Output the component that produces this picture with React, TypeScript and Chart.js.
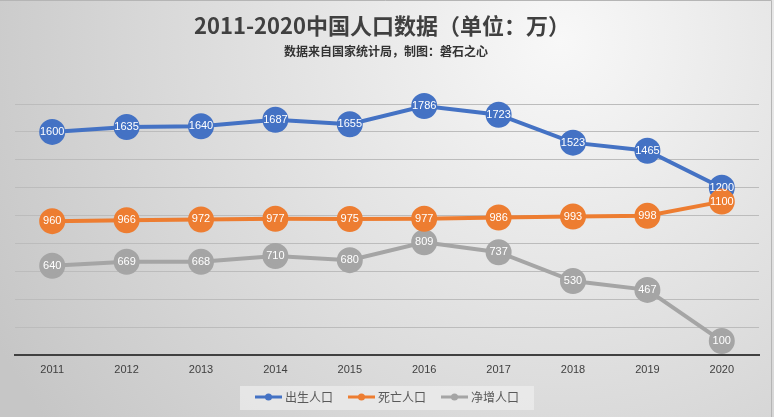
import React, { useEffect, useRef } from "react";
import { Chart, registerables } from "chart.js";

Chart.register(...registerables);

const years = ["2011", "2012", "2013", "2014", "2015", "2016", "2017", "2018", "2019", "2020"];
const births = [1600, 1635, 1640, 1687, 1655, 1786, 1723, 1523, 1465, 1200];
const deaths = [960, 966, 972, 977, 975, 977, 986, 993, 998, 1100];
const netGrowth = [640, 669, 668, 710, 680, 809, 737, 530, 467, 100];
const seriesNames = ["出生人口", "死亡人口", "净增人口"];
const seriesColors = ["#4472C4", "#ED7D31", "#A5A5A5"];
const titleText = "2011-2020中国人口数据（单位：万）";
const subtitleText = "数据来自国家统计局，制图：磐石之心";

const CJK = '"Noto Sans CJK SC", "Noto Sans", sans-serif';
const LATIN = '"Liberation Sans", Arial, sans-serif';

const backgroundPlugin = {
  id: "bgPlugin",
  beforeDraw(chart: any) {
    const { ctx, width, height } = chart;
    ctx.save();
    const g = ctx.createRadialGradient(560, 40, 0, 560, 40, 640);
    g.addColorStop(0, "#f8f8f8");
    g.addColorStop(1, "#c6c6c6");
    ctx.fillStyle = g;
    ctx.fillRect(0, 0, width, height);
    ctx.strokeStyle = "#b5b5b5";
    ctx.lineWidth = 1;
    ctx.beginPath();
    ctx.moveTo(0, 0.5);
    ctx.lineTo(771.5, 0.5);
    ctx.lineTo(771.5, height);
    ctx.stroke();
    ctx.restore();
  },
};

const labelsPlugin = {
  id: "labelsPlugin",
  afterDatasetsDraw(chart: any) {
    const { ctx } = chart;
    ctx.save();
    ctx.font = `11px ${LATIN}`;
    ctx.fillStyle = "#ffffff";
    ctx.textAlign = "center";
    ctx.textBaseline = "middle";
    chart.data.datasets.forEach((ds: any, i: number) => {
      const meta = chart.getDatasetMeta(i);
      meta.data.forEach((pt: any, j: number) => {
        ctx.fillText(String(ds.data[j]), pt.x, pt.y);
      });
    });
    ctx.restore();
  },
};

const decorPlugin = {
  id: "decorPlugin",
  afterDraw(chart: any) {
    const { ctx } = chart;
    ctx.save();
    ctx.textAlign = "center";
    ctx.textBaseline = "middle";
    ctx.fillStyle = "#404040";
    ctx.font = `bold 22px ${CJK}`;
    ctx.fillText(titleText, 382, 26);
    ctx.font = `bold 12px ${CJK}`;
    ctx.fillStyle = "#333333";
    ctx.fillText(subtitleText, 386, 51);

    // legend
    ctx.font = `12px ${CJK}`;
    const lineLen = 27;
    const gapText = 3;
    const gapItem = 15;
    const widths = seriesNames.map((n) => ctx.measureText(n).width);
    const total = widths.reduce((a, w) => a + lineLen + gapText + w, 0) + gapItem * (seriesNames.length - 1);
    const cx = 387;
    const cy = 397;
    ctx.fillStyle = "rgba(240,240,240,0.65)";
    ctx.fillRect(cx - total / 2 - 15, 386, total + 30, 24);
    let x = cx - total / 2;
    seriesNames.forEach((name, i) => {
      ctx.strokeStyle = seriesColors[i];
      ctx.lineWidth = 3;
      ctx.beginPath();
      ctx.moveTo(x, cy);
      ctx.lineTo(x + lineLen, cy);
      ctx.stroke();
      ctx.fillStyle = seriesColors[i];
      ctx.beginPath();
      ctx.arc(x + lineLen / 2, cy, 3.5, 0, Math.PI * 2);
      ctx.fill();
      ctx.fillStyle = "#595959";
      ctx.textAlign = "left";
      ctx.fillText(name, x + lineLen + gapText, cy);
      x += lineLen + gapText + widths[i] + gapItem;
    });
    ctx.restore();
  },
};

export default function App() {
  const ref = useRef<HTMLCanvasElement>(null);
  useEffect(() => {
    document.body.style.margin = "0";
    const seriesData = [births, deaths, netGrowth];
    const orders = [2, 1, 3];
    const chart = new Chart(ref.current as HTMLCanvasElement, {
      type: "line",
      data: {
        labels: years,
        datasets: seriesData.map((d, i) => ({
          label: seriesNames[i],
          data: d,
          borderColor: seriesColors[i],
          backgroundColor: seriesColors[i],
          pointBackgroundColor: seriesColors[i],
          pointBorderColor: seriesColors[i],
          borderWidth: 4,
          pointRadius: 11,
          pointHoverRadius: 11,
          tension: 0,
          clip: false as any,
          order: orders[i],
        })),
      },
      options: {
        responsive: false,
        animation: false,
        devicePixelRatio: 1,
        layout: { padding: { top: 104, left: 15, right: 15, bottom: 32 } },
        plugins: {
          legend: { display: false },
          title: { display: false },
          tooltip: { enabled: false },
        },
        scales: {
          x: {
            offset: true,
            grid: { display: false, drawTicks: false },
            border: { display: true, color: "#404040", width: 2 },
            ticks: {
              color: "#404040",
              font: { family: LATIN, size: 11 },
              padding: 8,
              maxRotation: 0,
              autoSkip: false,
            },
            afterFit: (s: any) => {
              s.height = 30;
            },
          },
          y: {
            min: 0,
            max: 1800,
            ticks: { display: false, stepSize: 200 },
            grid: { color: "#bcbcbc", lineWidth: 1, drawTicks: false },
            border: { display: false },
            afterFit: (s: any) => {
              s.width = 0;
            },
          },
        },
      },
      plugins: [backgroundPlugin, labelsPlugin, decorPlugin],
    });
    return () => chart.destroy();
  }, []);
  return (
    <div style={{ width: 774, height: 417 }}>
      <canvas ref={ref} width={774} height={417} style={{ display: "block" }} />
    </div>
  );
}
